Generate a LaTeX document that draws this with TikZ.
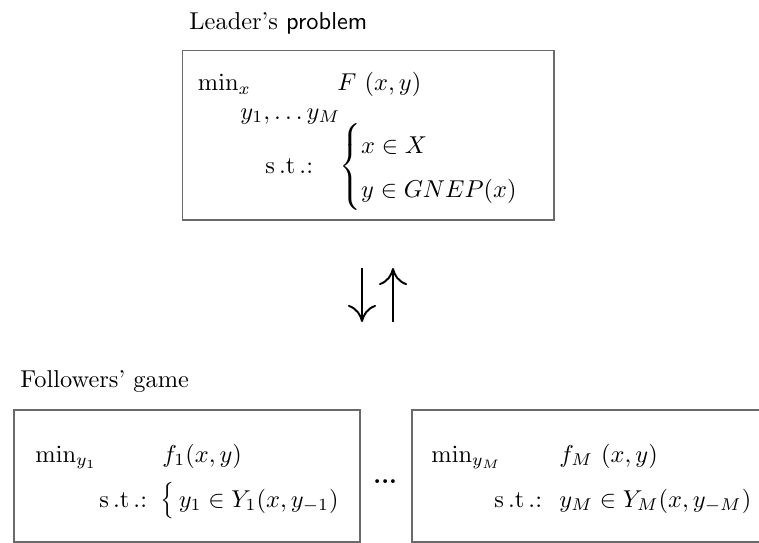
\documentclass[tikz,border=0pt]{standalone}
\usepackage{amsmath}
\usetikzlibrary{positioning,arrows.meta}
\definecolor{boxgray}{HTML}{6A6A6A}

\begin{document}
\begin{tikzpicture}[x=0.41pt,y=-0.41pt,
  box/.style={draw=boxgray,line width=0.7pt,inner sep=0pt,anchor=north west},
  txt/.style={anchor=base west,inner sep=0pt},
  arr/.style={line width=0.8pt,-{To[length=7pt,width=11.5pt]}}]
\useasboundingbox (0,0) rectangle (759,543);
% leader's problem
\node[txt] (leadtitle) at (189,29) {Leader's \textsf{problem}};
\node[box,minimum width=152.3pt,minimum height=69.5pt] (lead) at (181.5,49.5) {};
\node[txt] (leadmin) at (197.5,90.6) {$\min_x$};
\node[txt] (leadvars) at (240,119) {$y_1,\ldots y_M$};
\node[txt] (leadobj) at (337,90.6) {$F\ (x,y)$};
\node[txt] (leadst) at (265,173) {s\,.t\,.:};
\node[txt] (leadcons) at (339,173) {$\renewcommand\arraystretch{1.5}\left\{\begin{array}{@{}l@{}} x\in X\\ y\in GNEP(x)\end{array}\right.$};
% arrows between the levels
\coordinate (dntop) at (362,268);
\coordinate (dnbot) at (362,322);
\coordinate (uptop) at (393,268);
\coordinate (upbot) at (393,322);
\draw[arr] (dntop) -- (dnbot);
\draw[arr] (upbot) -- (uptop);
% followers' game
\node[txt] (folltitle) at (20,387) {Followers' game};
\node[box,minimum width=141.9pt,minimum height=54.1pt] (foll1) at (13,409) {};
\node[txt] (foll1min) at (35,462) {$\min_{y_1}$};
\node[txt] (foll1obj) at (162,462) {$f_1(x,y)$};
\node[txt] (foll1st) at (99,507) {s\,.t\,.:};
\node[txt] (foll1cons) at (160,507) {$\vcenter{\hbox{\scalebox{1}[1.25]{$\bigl\{$}}}\,y_1\in Y_1(x,y_{-1})$};
\node[txt] (dots) at (373,483) {\textbf{...}};
\node[box,minimum width=151.3pt,minimum height=54.1pt] (follM) at (411,409) {};
\node[txt] (follMmin) at (431,462) {$\min_{y_M}$};
\node[txt] (follMobj) at (559,462) {$f_M\ (x,y)$};
\node[txt] (follMst) at (494,507) {s\,.t\,.:};
\node[txt] (follMcons) at (559,507) {$y_M\in Y_M(x,y_{-M})$};
\end{tikzpicture}
\end{document}
